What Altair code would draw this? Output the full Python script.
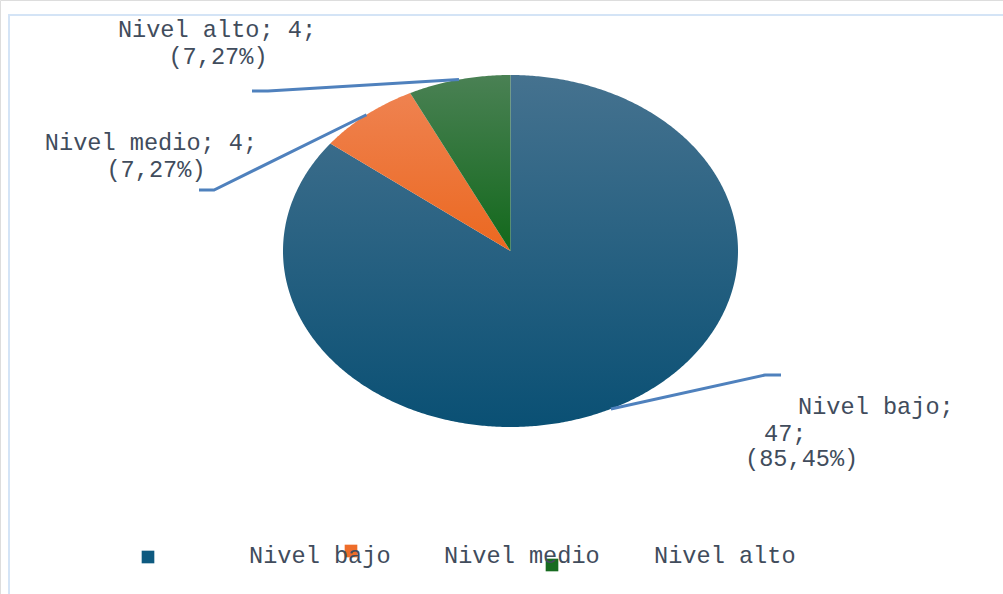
import math
import altair as alt
import pandas as pd

# ---------------- data ----------------
categories = ["Nivel bajo", "Nivel medio", "Nivel alto"]
counts = [47, 4, 4]

# ---------------- layout / style ----------------
W, H = 1003, 594
CX, CY, RX, RY = 510.5, 251.0, 227.5, 176.0
FONT = "Liberation Mono"
FSIZE = 23.6
TXT = "#414c5c"
LEADER = "#4f81bd"
grads = {
    "Nivel bajo": ("#45728f", "#0a5074"),
    "Nivel medio": ("#ef8250", "#eb6820"),
    "Nivel alto": ("#4a8154", "#12681b"),
}
legend_sq = {"Nivel bajo": (148, 557), "Nivel medio": (351, 551), "Nivel alto": (552, 565)}
legend_sq_color = {"Nivel bajo": "#0e5a80", "Nivel medio": "#ee6d2a", "Nivel alto": "#176b20"}
legend_txt_x = {"Nivel bajo": 249, "Nivel medio": 444, "Nivel alto": 654}
LEG_Y = 556
# label lines: (x, y, align) for each text line
label_lines = {
    "Nivel alto": [(217, 30, "center"), (218, 57, "center")],
    "Nivel medio": [(151, 143, "center"), (156, 170, "center")],
    "Nivel bajo": [(798, 407, "left"), (764, 434, "left"), (745, 459, "left")],
}
elbows = {
    "Nivel alto": [(268, 91), (252, 91)],
    "Nivel medio": [(214, 190), (199, 190)],
    "Nivel bajo": [(765, 375), (781, 375)],
}

total = sum(counts)

def ell(a):
    return CX + RX * math.sin(a), CY - RY * math.cos(a)

# slices: clockwise from 12 o'clock
rows, leaders, labels = [], [], []
start = 0.0
for cat, n in zip(categories, counts):
    frac = n / total
    a0 = start * 2 * math.pi
    a1 = (start + frac) * 2 * math.pi
    pts = [(CX, CY)]
    steps = max(4, int(frac * 720))
    for k in range(steps + 1):
        pts.append(ell(a0 + (a1 - a0) * k / steps))
    pts.append((CX, CY))
    for i, (x, y) in enumerate(pts):
        rows.append({"cat": cat, "i": i, "x": x, "y": y})
    mx, my = ell((a0 + a1) / 2)
    lpts = [(mx, my)] + elbows[cat]
    for i, (x, y) in enumerate(lpts):
        leaders.append({"cat": cat, "i": i, "x": x, "y": y})
    pct = f"({frac*100:.2f}%)".replace(".", ",")
    if cat == "Nivel bajo":
        texts = [f"{cat};", f"{n};", pct]
    else:
        texts = [f"{cat}; {n};", pct]
    for t, (lx, ly, al) in zip(texts, label_lines[cat]):
        labels.append({"cat": cat, "t": t, "x": lx, "y": ly, "align": al})
    start += frac

slices = pd.DataFrame(rows)
lead_df = pd.DataFrame(leaders)
lab_df = pd.DataFrame(labels)
leg_df = pd.DataFrame({
    "cat": categories,
    "sx": [legend_sq[c][0] for c in categories],
    "sy": [legend_sq[c][1] for c in categories],
    "tx": [legend_txt_x[c] for c in categories],
    "ty": [LEG_Y] * 3,
})

xs = alt.Scale(domain=[0, W], nice=False, zero=False)
ys = alt.Scale(domain=[0, H], nice=False, zero=False, reverse=True)

def X(f):
    return alt.X(f, type="quantitative", scale=xs, axis=None)

def Y(f):
    return alt.Y(f, type="quantitative", scale=ys, axis=None)

layers = []
# border
border = pd.DataFrame({"x": [8, W, 9, 9], "y": [15, 15, 15, H], "g": ["t", "t", "l", "l"]})
layers.append(alt.Chart(border).mark_line(color="#d4e4f6", strokeWidth=2).encode(
    x=X("x"), y=Y("y"), detail="g:N"))

for cat in categories:
    top, bot = grads[cat]
    grad = alt.LinearGradient(gradient="linear", x1=0, y1=0, x2=0, y2=1,
                              stops=[alt.GradientStop(color=top, offset=0),
                                     alt.GradientStop(color=bot, offset=1)])
    layers.append(alt.Chart(slices).transform_filter(alt.datum.cat == cat).mark_line(
        filled=True, fill=grad, strokeWidth=0, interpolate="linear").encode(
        x=X("x"), y=Y("y"), order="i:Q"))

layers.append(alt.Chart(lead_df).mark_line(color=LEADER, strokeWidth=3).encode(
    x=X("x"), y=Y("y"), detail="cat:N", order="i:Q"))

for al in ["center", "left"]:
    layers.append(alt.Chart(lab_df).transform_filter(alt.datum.align == al).mark_text(
        font=FONT, fontSize=FSIZE, color=TXT, align=al, baseline="middle").encode(
        x=X("x"), y=Y("y"), text="t:N"))

# legend
layers.append(alt.Chart(leg_df).mark_square(size=160, opacity=1, filled=True).encode(
    x=X("sx"), y=Y("sy"),
    color=alt.Color("cat:N", scale=alt.Scale(domain=categories,
                    range=[legend_sq_color[c] for c in categories]), legend=None)))
layers.append(alt.Chart(leg_df).mark_text(
    font=FONT, fontSize=FSIZE, color=TXT, align="left", baseline="middle").encode(
    x=X("tx"), y=Y("ty"), text="cat:N"))

chart = alt.layer(*layers).properties(
    width=W, height=H, padding=0, autosize=alt.AutoSizeParams(type="none")
).configure_view(stroke=None).configure(background="white")

chart.save("out.html", embed_options={"renderer": "svg", "actions": False})
